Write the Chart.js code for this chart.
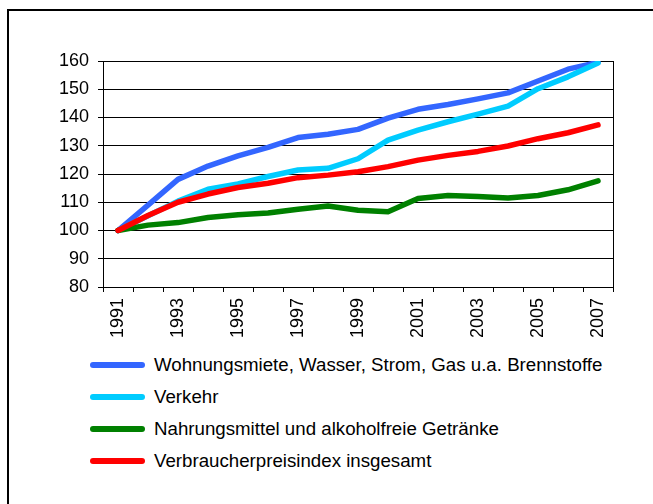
<!DOCTYPE html>
<html>
<head>
<meta charset="utf-8">
<script src="https://cdn.jsdelivr.net/npm/chart.js@4/dist/chart.umd.min.js"></script>
<style>
  body { margin: 0; background: #fff; font-family: "Liberation Sans", Arial, sans-serif; }
  #wrap { position: relative; width: 653px; height: 504px; overflow: hidden; }
  #frame { position: absolute; left: 7px; top: 9px; width: 700px; height: 600px;
           border-left: 2px solid #000; border-top: 2px solid #000; }
  #chartBox { position: absolute; left: 0; top: 0; width: 653px; height: 345px; }
  #legend { position: absolute; left: 90px; top: 349px; }
  .item { display: flex; align-items: center; height: 32px; font-size: 18.7px; color: #000; }
  .swatch { width: 55px; height: 6px; border-radius: 3px; margin-right: 9px; }
</style>
</head>
<body>
<div id="wrap">
  <div id="frame"></div>
  <div id="chartBox"><canvas id="priceChart" width="653" height="345"></canvas></div>
  <div id="legend"></div>
</div>
<script>
const years = ['1991','1992','1993','1994','1995','1996','1997','1998','1999',
               '2000','2001','2002','2003','2004','2005','2006','2007'];
const wohnung = [100, 109, 118.1, 122.8, 126.4, 129.4, 132.9, 134.1, 135.8,
                 139.8, 142.9, 144.6, 146.6, 148.7, 152.9, 157.1, 159.5];
const verkehr = [100, 105.2, 110.4, 114.6, 116.5, 119.1, 121.4, 122, 125.4,
                 132, 135.5, 138.5, 141.2, 144, 150.2, 154.4, 159.3];
const nahrung = [100, 101.9, 102.8, 104.6, 105.6, 106.2, 107.5, 108.7, 107.2,
                 106.6, 111.3, 112.4, 112, 111.5, 112.4, 114.4, 117.6];
const vpi = [100, 105.3, 110, 112.9, 115.2, 116.7, 118.7, 119.6, 120.8,
             122.6, 124.9, 126.6, 128, 129.9, 132.5, 134.6, 137.4];

const seriesNames = ['Wohnungsmiete, Wasser, Strom, Gas u.a. Brennstoffe', 'Verkehr',
                     'Nahrungsmittel und alkoholfreie Getränke', 'Verbraucherpreisindex insgesamt'];
const seriesColors = ['#3366ff', '#00ccff', '#008000', '#ff0000'];
const seriesData = [wohnung, verkehr, nahrung, vpi];

Chart.defaults.font.family = '"Liberation Sans", Arial, sans-serif';
Chart.defaults.font.size = 18;
Chart.defaults.color = '#000';

const ctx = document.getElementById('priceChart').getContext('2d');
new Chart(ctx, {
  type: 'line',
  data: {
    labels: years,
    datasets: seriesData.map((d, i) => ({
      label: seriesNames[i],
      data: d,
      borderColor: seriesColors[i],
      backgroundColor: seriesColors[i],
      borderWidth: 5.5,
      pointRadius: 0,
      tension: 0,
      borderCapStyle: 'round',
      borderJoinStyle: 'round',
      order: 4 - i
    }))
  },
  options: {
    responsive: false,
    animation: false,
    layout: { padding: { left: 53, top: 61, right: 40, bottom: 0 } },
    plugins: { legend: { display: false }, tooltip: { enabled: false } },
    scales: {
      x: {
        offset: true,
        grid: { offset: true, drawOnChartArea: false, drawTicks: true, tickLength: 5, color: '#000' },
        border: { color: '#000', width: 1 },
        ticks: {
          autoSkip: false, maxRotation: 90, minRotation: 90, padding: 6,
          callback: (v, i) => (i % 2 === 0 ? years[i] : '')
        },
        afterFit: s => { s.height = 58; }
      },
      y: {
        min: 80, max: 160,
        ticks: { stepSize: 10, padding: 9 },
        grid: { color: '#000', tickLength: 5 },
        border: { color: '#000', width: 1 },
        afterFit: s => { s.width = 50; }
      },
      y2: {
        position: 'right',
        min: 80, max: 160,
        ticks: { display: false },
        grid: { drawOnChartArea: false, drawTicks: false },
        border: { color: '#000', width: 1 },
        afterFit: s => { s.width = 0; }
      }
    }
  }
});

// legend below the chart, one row per series
const legendEl = document.getElementById('legend');
seriesNames.forEach((name, i) => {
  const row = document.createElement('div');
  row.className = 'item';
  const sw = document.createElement('div');
  sw.className = 'swatch';
  sw.style.background = seriesColors[i];
  const txt = document.createElement('span');
  txt.textContent = name;
  row.appendChild(sw);
  row.appendChild(txt);
  legendEl.appendChild(row);
});
</script>
</body>
</html>
